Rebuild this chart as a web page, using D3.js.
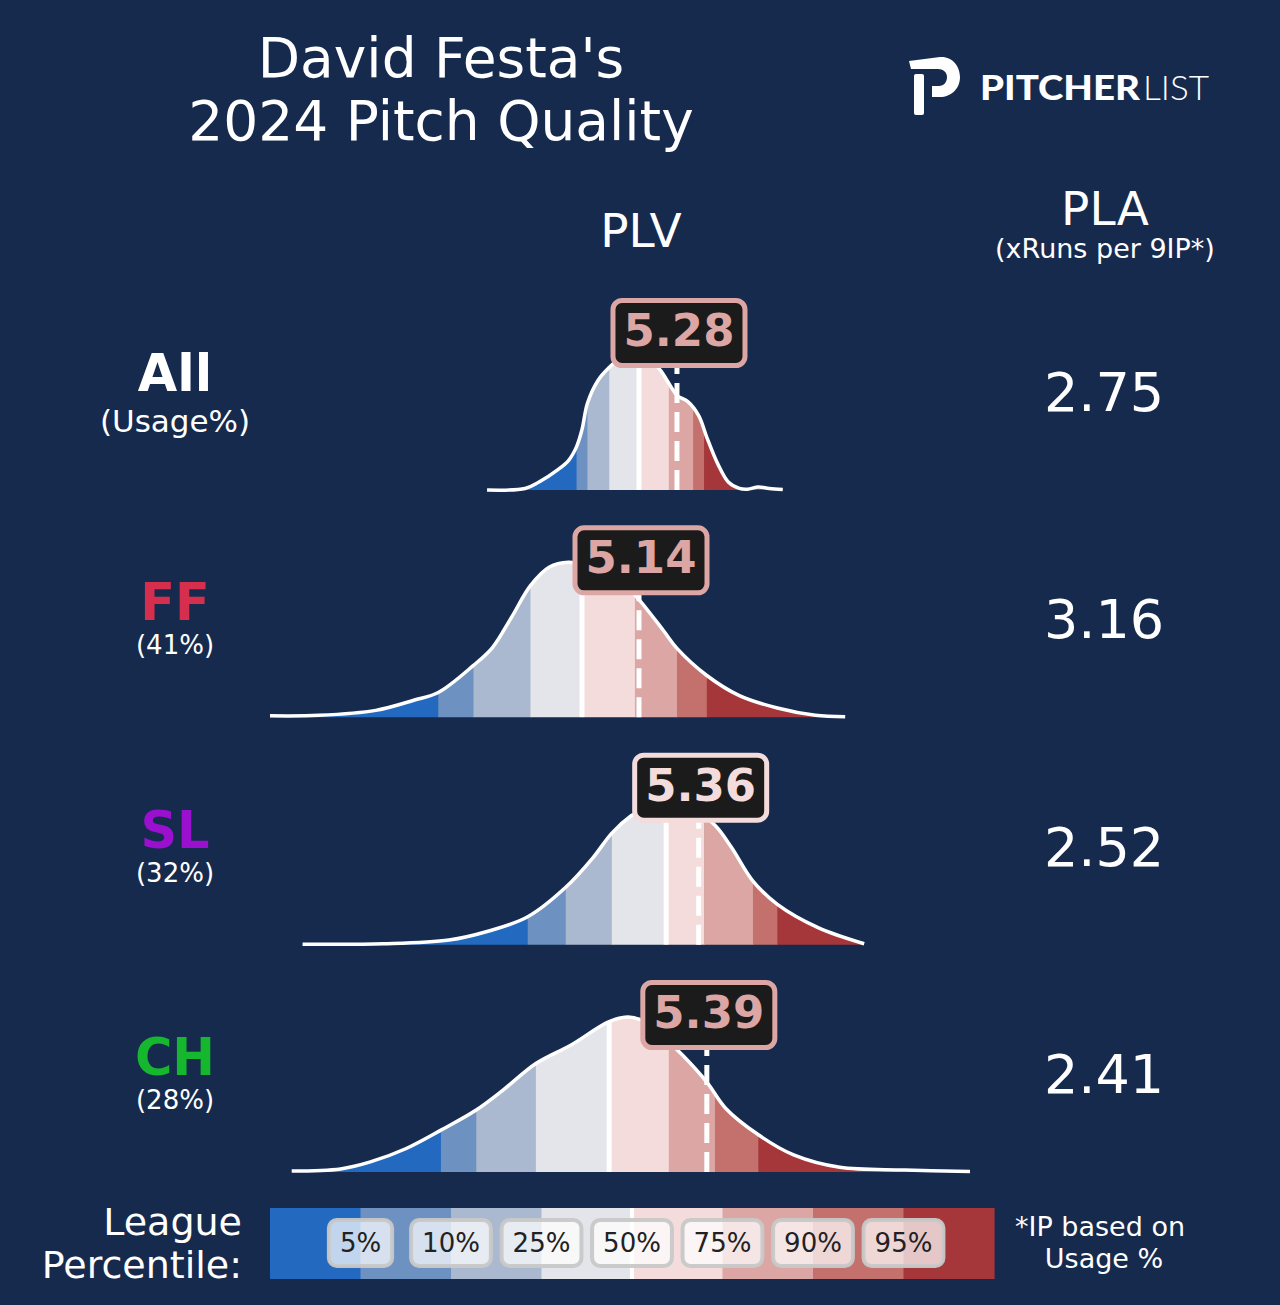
<!DOCTYPE html>
<html>
<head>
<meta charset="utf-8">
<script src="https://cdn.jsdelivr.net/npm/d3@7"></script>
<style>
html, body { margin: 0; padding: 0; background: #162a4e; }
svg { display: block; font-family: "DejaVu Sans", sans-serif; }
</style>
</head>
<body>
<svg id="chart" width="1280" height="1305"></svg>
<script>
// pitch rows
var pitchNames = ["All", "FF", "SL", "CH"];
var usageLabels = ["(Usage%)", "(41%)", "(32%)", "(28%)"];
var plvValues = [5.28, 5.14, 5.36, 5.39];
var plaValues = [2.75, 3.16, 2.52, 2.41];

// league percentile cut points per pitch (PLV)
var percentileLevels = [5, 10, 25, 50, 75, 90, 95];
var allPercentiles = [4.91, 4.95, 5.03, 5.14, 5.25, 5.34, 5.38];
var ffPercentiles = [4.40, 4.53, 4.74, 4.93, 5.125, 5.28, 5.39];
var slPercentiles = [4.73, 4.87, 5.04, 5.24, 5.38, 5.56, 5.65];
var chPercentiles = [4.41, 4.54, 4.76, 5.03, 5.25, 5.42, 5.58];

// density curves (PLV grid, relative density)
var allGrid = [4.58, 4.72, 4.77, 4.84, 4.88, 4.91, 4.93, 4.95, 4.99, 5.03, 5.07, 5.11, 5.15, 5.19, 5.22, 5.26, 5.28, 5.32, 5.36, 5.39, 5.43, 5.47, 5.51, 5.54, 5.58, 5.62, 5.67];
var allDensity = [0, 0.01, 0.05, 0.13, 0.19, 0.28, 0.39, 0.56, 0.71, 0.79, 0.85, 0.88, 0.87, 0.83, 0.77, 0.66, 0.61, 0.57, 0.48, 0.34, 0.17, 0.05, 0.01, 0.005, 0.02, 0.01, 0.003];

var ffGrid = [3.78, 3.96, 4.17, 4.31, 4.40, 4.53, 4.60, 4.67, 4.74, 4.81, 4.88, 4.95, 5.02, 5.08, 5.14, 5.23, 5.28, 5.39, 5.51, 5.65, 5.79, 5.90];
var ffDensity = [0.01, 0.013, 0.045, 0.11, 0.16, 0.335, 0.45, 0.645, 0.85, 0.97, 1, 0.98, 0.94, 0.87, 0.76, 0.56, 0.445, 0.27, 0.14, 0.06, 0.013, 0.003];

var slGrid = [3.90, 4.20, 4.44, 4.58, 4.73, 4.87, 4.97, 5.04, 5.11, 5.18, 5.25, 5.33, 5.42, 5.48, 5.56, 5.65, 5.80, 5.97];
var slDensity = [0.003, 0.006, 0.03, 0.085, 0.18, 0.37, 0.56, 0.72, 0.83, 0.9, 0.935, 0.89, 0.77, 0.63, 0.41, 0.26, 0.11, 0.006];

var chGrid = [3.86, 4.04, 4.15, 4.28, 4.41, 4.54, 4.64, 4.76, 4.89, 5.03, 5.10, 5.16, 5.23, 5.30, 5.39, 5.46, 5.58, 5.71, 5.88, 6.12, 6.36];
var chDensity = [0.006, 0.02, 0.065, 0.15, 0.27, 0.4, 0.53, 0.70, 0.82, 0.97, 1, 0.97, 0.87, 0.755, 0.58, 0.41, 0.24, 0.11, 0.03, 0.013, 0.003];

// styling
var bandColors = ["#2469c0", "#6d91c0", "#aab9d0", "#e4e5ea", "#f3dcdb", "#dba6a3", "#c4706c", "#a5373b"];
var pitchColors = { "All": "#ffffff", "FF": "#d62e4d", "SL": "#9b0fcf", "CH": "#14b72d" };

var rows = [
    { name: pitchNames[0], usage: usageLabels[0], plv: plvValues[0], pla: plaValues[0], grid: allGrid, density: allDensity, pct: allPercentiles },
    { name: pitchNames[1], usage: usageLabels[1], plv: plvValues[1], pla: plaValues[1], grid: ffGrid, density: ffDensity, pct: ffPercentiles },
    { name: pitchNames[2], usage: usageLabels[2], plv: plvValues[2], pla: plaValues[2], grid: slGrid, density: slDensity, pct: slPercentiles },
    { name: pitchNames[3], usage: usageLabels[3], plv: plvValues[3], pla: plaValues[3], grid: chGrid, density: chDensity, pct: chPercentiles }
];

var svg = d3.select("#chart");
svg.append("rect").attr("width", 1280).attr("height", 1305).attr("fill", "#162a4e");
var defs = svg.append("defs");

var x = d3.scaleLinear().domain([3.78, 6.36]).range([270, 970]);
var h = d3.scaleLinear().domain([0, 1]).range([0, 155]);
var rowBase = d3.scaleLinear().domain([0, 3]).range([490, 1172]);

// title
var title = svg.append("text")
    .attr("x", 441)
    .attr("text-anchor", "middle")
    .attr("fill", "#ffffff")
    .attr("font-size", 55);
title.append("tspan").attr("x", 441).attr("y", 77).text("David Festa's");
title.append("tspan").attr("x", 441).attr("y", 140).text("2024 Pitch Quality");

// logo
var logo = svg.append("g").attr("fill", "#ffffff");
logo.append("path")
    .attr("d", "M909,61 L940,57 C952,56 960,66 960,77 C960,89 951,97 940,97 L932,97 L932,86 L939,86 C944,86 947,82 947,77 C947,72 943,69 938,69 L911,69 Z");
logo.append("rect").attr("x", 914).attr("y", 74).attr("width", 10).attr("height", 41).attr("rx", 2);
logo.append("text")
    .attr("x", 980).attr("y", 100)
    .attr("font-family", "Lato, 'Open Sans', sans-serif")
    .attr("font-weight", 900)
    .attr("font-size", 34)
    .attr("textLength", 160)
    .attr("lengthAdjust", "spacingAndGlyphs")
    .text("PITCHER");
logo.append("text")
    .attr("x", 1143).attr("y", 100)
    .attr("font-family", "Lato, 'Open Sans', sans-serif")
    .attr("font-weight", 300)
    .attr("font-size", 34)
    .attr("textLength", 66)
    .attr("lengthAdjust", "spacingAndGlyphs")
    .text("LIST");

// column headers
svg.append("text").attr("x", 641).attr("y", 247).attr("text-anchor", "middle")
    .attr("fill", "#ffffff").attr("font-size", 47).text("PLV");
svg.append("text").attr("x", 1105).attr("y", 225).attr("text-anchor", "middle")
    .attr("fill", "#ffffff").attr("font-size", 47).text("PLA");
svg.append("text").attr("x", 1105).attr("y", 258).attr("text-anchor", "middle")
    .attr("fill", "#ffffff").attr("font-size", 27).text("(xRuns per 9IP*)");

var curve = d3.curveCatmullRom.alpha(0.5);

rows.forEach(function(row, i) {
    var base = rowBase(i);
    var g = svg.append("g").attr("transform", "translate(0," + base + ")");

    var points = row.grid.map(function(v, j) { return { v: v, d: row.density[j] }; });

    var area = d3.area()
        .x(function(d) { return x(d.v); })
        .y0(0)
        .y1(function(d) { return -h(d.d); })
        .curve(curve);

    var line = d3.line()
        .x(function(d) { return x(d.v); })
        .y(function(d) { return -h(d.d); })
        .curve(curve);

    defs.append("clipPath").attr("id", "clip" + i)
        .append("path").attr("d", area(points)).attr("transform", "translate(0," + base + ")");

    var bands = g.append("g").attr("clip-path", "url(#clip" + i + ")")
        .attr("transform", "translate(0," + (-base) + ")");
    var edges = [row.grid[0]].concat(row.pct).concat([row.grid[row.grid.length - 1]]);

    bands.selectAll("rect")
        .data(d3.range(8))
        .enter().append("rect")
        .attr("x", function(k) { return x(edges[k]); })
        .attr("width", function(k) { return x(edges[k + 1]) - x(edges[k]) + 0.6; })
        .attr("y", base - 180)
        .attr("height", 182)
        .attr("fill", function(k) { return bandColors[k]; });

    // median
    bands.append("line")
        .attr("x1", x(row.pct[3])).attr("x2", x(row.pct[3]))
        .attr("y1", base).attr("y2", base - 180)
        .attr("stroke", "#ffffff").attr("stroke-width", 5);

    g.append("path")
        .attr("d", line(points))
        .attr("fill", "none")
        .attr("stroke", "#ffffff")
        .attr("stroke-width", 3.5)
        .attr("stroke-linejoin", "round");

    // player value
    var vx = x(row.plv);
    g.append("line")
        .attr("x1", vx).attr("x2", vx)
        .attr("y1", 0).attr("y2", -124)
        .attr("stroke", "#ffffff").attr("stroke-width", 5)
        .attr("stroke-dasharray", "20,9");

    var boxColor = bandColors[d3.bisect(row.pct, row.plv)];
    g.append("rect")
        .attr("x", vx + 2 - 66).attr("y", -189.5)
        .attr("width", 132).attr("height", 65)
        .attr("rx", 9)
        .attr("fill", "#1b1b1b")
        .attr("stroke", boxColor)
        .attr("stroke-width", 5);
    g.append("text")
        .attr("x", vx + 2).attr("y", -144)
        .attr("text-anchor", "middle")
        .attr("font-size", 45).attr("font-weight", "bold")
        .attr("fill", boxColor)
        .text(row.plv.toFixed(2));

    // left labels
    g.append("text")
        .attr("x", 175).attr("y", i === 0 ? -99 : -97)
        .attr("text-anchor", "middle")
        .attr("font-size", 51).attr("font-weight", "bold")
        .attr("fill", pitchColors[row.name])
        .text(row.name);
    g.append("text")
        .attr("x", 175).attr("y", i === 0 ? -58 : -63)
        .attr("text-anchor", "middle")
        .attr("font-size", i === 0 ? 31 : 26)
        .attr("fill", "#ffffff")
        .text(row.usage);

    // PLA
    g.append("text")
        .attr("x", 1104).attr("y", -79)
        .attr("text-anchor", "middle")
        .attr("font-size", 54)
        .attr("fill", "#ffffff")
        .text(row.pla.toFixed(2));
});

// legend
var legendX = d3.scaleBand().domain(d3.range(8)).range([270, 994]);
var legend = svg.append("g");
legend.selectAll("rect.band")
    .data(d3.range(8))
    .enter().append("rect")
    .attr("class", "band")
    .attr("x", function(k) { return legendX(k); })
    .attr("width", legendX.bandwidth() + 0.6)
    .attr("y", 1208)
    .attr("height", 71)
    .attr("fill", function(k) { return bandColors[k]; });
legend.append("line")
    .attr("x1", legendX(4)).attr("x2", legendX(4))
    .attr("y1", 1208).attr("y2", 1279)
    .attr("stroke", "#ffffff").attr("stroke-width", 4);

percentileLevels.forEach(function(p, k) {
    var cx = legendX(k + 1);
    var lg = legend.append("g");
    var box = lg.append("rect");
    var t = lg.append("text")
        .attr("x", cx).attr("y", 1252)
        .attr("text-anchor", "middle")
        .attr("font-size", 26)
        .attr("fill", "#222222")
        .text(p + "%");
    var w = t.node().getComputedTextLength() + 22;
    box.attr("x", cx - w / 2).attr("y", 1220)
        .attr("width", w).attr("height", 46)
        .attr("rx", 8)
        .attr("fill", "rgba(255,255,255,0.72)")
        .attr("stroke", "rgba(200,200,200,0.95)")
        .attr("stroke-width", 4);
});

svg.append("text").attr("x", 242).attr("y", 1235).attr("text-anchor", "end")
    .attr("fill", "#ffffff").attr("font-size", 38).text("League");
svg.append("text").attr("x", 242).attr("y", 1278).attr("text-anchor", "end")
    .attr("fill", "#ffffff").attr("font-size", 38).text("Percentile:");
svg.append("text").attr("x", 1100).attr("y", 1236).attr("text-anchor", "middle")
    .attr("fill", "#ffffff").attr("font-size", 27).text("*IP based on");
svg.append("text").attr("x", 1104).attr("y", 1268).attr("text-anchor", "middle")
    .attr("fill", "#ffffff").attr("font-size", 27).text("Usage %");
</script>
</body>
</html>
